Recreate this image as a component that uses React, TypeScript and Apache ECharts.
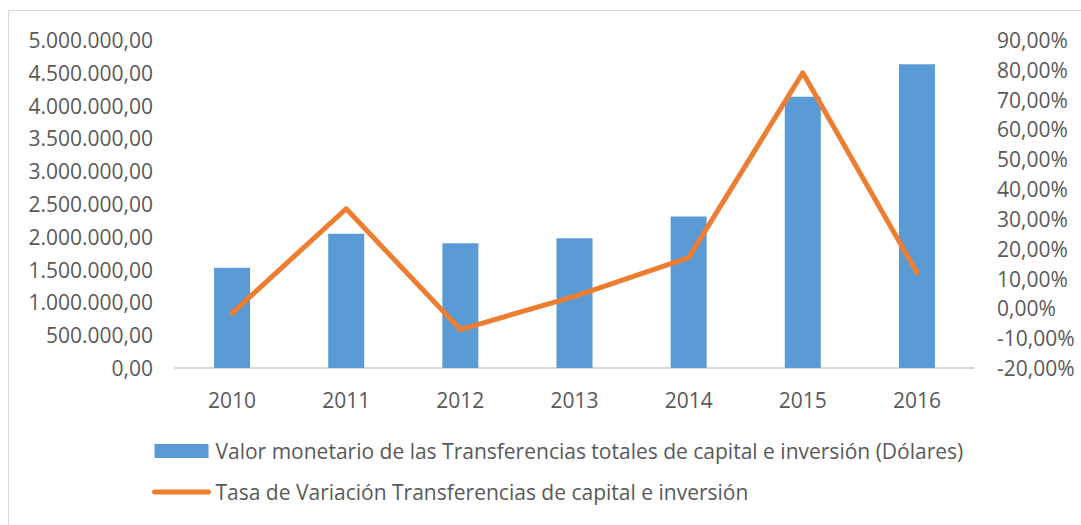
import React, { useEffect, useRef } from "react";
import * as echarts from "echarts";

const years = ["2010", "2011", "2012", "2013", "2014", "2015", "2016"];
const valorMonetario = [1530000, 2047000, 1900000, 1976000, 2310000, 4134000, 4630000];
const tasaVariacion = [-1.6, 33.4, -7.1, 4.0, 17.0, 79.0, 12.0];
const barName = "Valor monetario de las Transferencias totales de capital e inversión (Dólares)";
const lineName = "Tasa de Variación Transferencias de capital e inversión";

const FONT = "Open Sans";
const GRAY = "#595959";

function fmtMoney(v: number): string {
  const parts = v.toFixed(2).split(".");
  const intPart = parts[0].replace(/\B(?=(\d{3})+(?!\d))/g, ".");
  return intPart + "," + parts[1];
}

function fmtPct(v: number): string {
  return v.toFixed(2).replace(".", ",") + "%";
}

export default function App() {
  const ref = useRef<HTMLDivElement>(null);
  useEffect(() => {
    if (!ref.current) return;
    const chart = echarts.init(ref.current, undefined, { renderer: "svg" });
    chart.setOption({
      animation: false,
      backgroundColor: "#ffffff",
      textStyle: { fontFamily: FONT },
      graphic: [
        {
          type: "rect",
          shape: { x: 8.5, y: 10.5, width: 1200, height: 700 },
          style: { fill: "none", stroke: "#d9d9d9", lineWidth: 1 },
          silent: true,
          z: -1,
        },
      ],
      grid: { left: 175, right: 107, top: 40, bottom: 157, containLabel: false },
      legend: {
        orient: "vertical",
        left: 152,
        top: 440,
        padding: 0,
        itemWidth: 54,
        itemHeight: 14,
        itemGap: 19,
        textStyle: { fontFamily: FONT, fontSize: 21, color: GRAY, lineHeight: 22, padding: [0, 0, 0, 2] },
        data: [
          { name: barName, icon: "rect" },
          {
            name: lineName,
            itemStyle: { color: "rgba(0,0,0,0)", borderWidth: 0, opacity: 0 },
            lineStyle: { color: "#ed7d31", width: 5, cap: "round" },
          },
        ],
      },
      xAxis: {
        type: "category",
        data: years,
        axisLine: { lineStyle: { color: "#d9d9d9", width: 2 } },
        axisTick: { show: false },
        axisLabel: { color: GRAY, fontSize: 21, fontFamily: FONT, margin: 21 },
      },
      yAxis: [
        {
          type: "value",
          min: 0,
          max: 5000000,
          interval: 500000,
          splitLine: { show: false },
          axisLine: { show: false },
          axisTick: { show: false },
          axisLabel: { color: GRAY, fontSize: 21, fontFamily: FONT, margin: 22, formatter: (v: number) => fmtMoney(v) },
        },
        {
          type: "value",
          min: -20,
          max: 90,
          interval: 10,
          position: "right",
          splitLine: { show: false },
          axisLine: { show: false },
          axisTick: { show: false },
          axisLabel: { color: GRAY, fontSize: 21, fontFamily: FONT, margin: 23, formatter: (v: number) => fmtPct(v) },
        },
      ],
      series: [
        {
          name: barName,
          type: "bar",
          data: valorMonetario,
          barWidth: 36,
          itemStyle: { color: "#5b9bd5" },
          yAxisIndex: 0,
        },
        {
          name: lineName,
          type: "line",
          data: tasaVariacion,
          yAxisIndex: 1,
          symbol: "none",
          lineStyle: { color: "#ed7d31", width: 5, cap: "round", join: "round" },
          itemStyle: { color: "#ed7d31" },
        },
      ],
    });
    return () => chart.dispose();
  }, []);
  return (
    <div
      ref={ref}
      style={{ position: "absolute", left: 0, top: 0, width: 1081, height: 525 }}
    />
  );
}
